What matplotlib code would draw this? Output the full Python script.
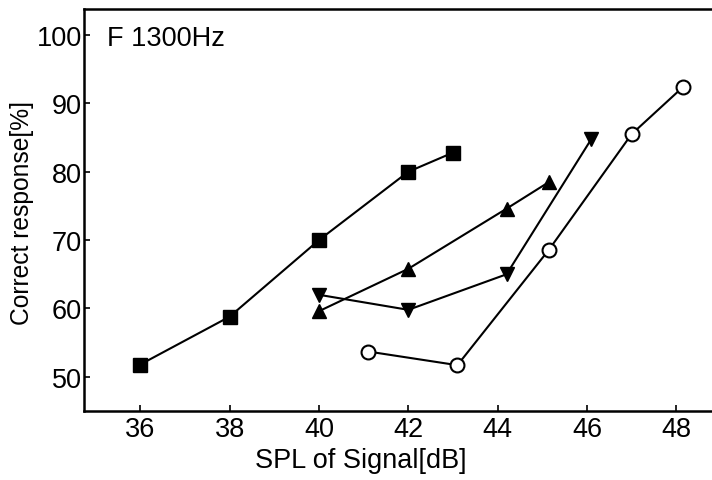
import matplotlib.pyplot as plt

plt.rcParams['font.family'] = ['Liberation Sans', 'DejaVu Sans']

# F 1300Hz, correct response vs signal level
sq_x = [36, 38, 40, 42, 43]
sq_y = [51.8, 58.8, 70.0, 80.0, 82.8]

up_x = [40, 42, 44.2, 45.15]
up_y = [59.6, 65.8, 74.6, 78.5]

dn_x = [40, 42, 44.2, 46.1]
dn_y = [62.0, 59.8, 65.0, 84.8]

ci_x = [41.1, 43.1, 45.15, 47.0, 48.15]
ci_y = [53.7, 51.7, 68.6, 85.5, 92.4]

x_ticks = [36, 38, 40, 42, 44, 46, 48]
y_ticks = [50, 60, 70, 80, 90, 100]

fig = plt.figure(figsize=(7.12, 4.81), dpi=100)
ax = fig.add_axes([0.118, 0.1435, 0.882, 0.8355])

ax.plot(sq_x, sq_y, color='black', lw=1.5, marker='s', ms=10, mfc='black', mec='black')
ax.plot(up_x, up_y, color='black', lw=1.5, marker='^', ms=10, mfc='black', mec='black')
ax.plot(dn_x, dn_y, color='black', lw=1.5, marker='v', ms=10, mfc='black', mec='black')
ax.plot(ci_x, ci_y, color='black', lw=1.5, marker='o', ms=10, mfc='white', mec='black', mew=1.5)

ax.set_xlim(34.74, 48.8)
ax.set_ylim(45.0, 103.8)
ax.set_xticks(x_ticks)
ax.set_yticks(y_ticks)
ax.tick_params(direction='in', length=4, width=1.2, labelsize=19.5)
ax.tick_params(axis='y', pad=1.5)

for s in ['left', 'bottom', 'top']:
    ax.spines[s].set_linewidth(1.8)
ax.spines['right'].set_visible(False)

ax.text(35.25, 99.6, 'F 1300Hz', fontsize=19.5, va='center', ha='left')

ax.set_xlabel('SPL of Signal[dB]', fontsize=19.5)
ax.set_ylabel('Correct response[%]', fontsize=17.7)
ax.xaxis.set_label_coords(0.44, -0.09)
ax.yaxis.set_label_coords(-0.08, 0.495)

fig.savefig('out.png', dpi=100)
